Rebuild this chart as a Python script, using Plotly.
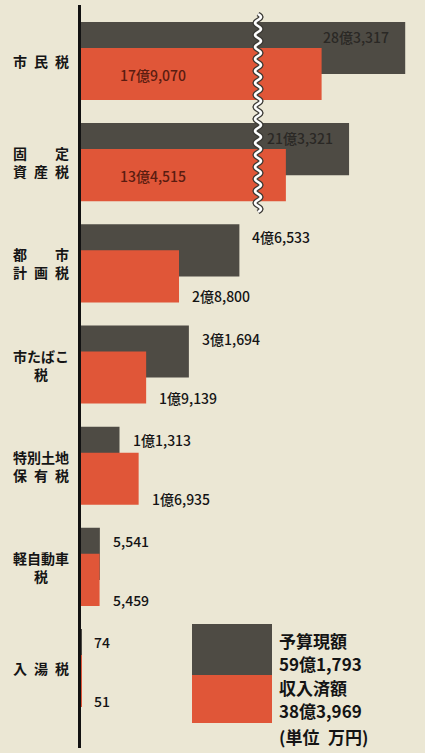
import math
import plotly.graph_objects as go

# ---------------- data (unit: 万円) ----------------
categories = ["市民税", "固定資産税", "都市計画税", "市たばこ税", "特別土地保有税", "軽自動車税", "入湯税"]
label_text = [
    "市\u2002民\u2002税",
    "固\u3000\u3000定<br>資\u2002産\u2002税",
    "都\u3000\u3000市<br>計\u2002画\u2002税",
    "市たばこ<br>税",
    "特別土地<br>保\u2002有\u2002税",
    "軽自動車<br>税",
    "入\u2002湯\u2002税",
]
budget = [283317, 213321, 46533, 31694, 11313, 5541, 74]     # 予算現額
revenue = [179070, 134515, 28800, 19139, 16935, 5459, 51]    # 収入済額
series_names = ["予算現額", "収入済額"]
unit_note = "(単位\u2002万円)"

# ---------------- style ----------------
W, H = 425, 753
ML, MR, MT, MB = 81, 0, 5, 5
PW, PH = W - ML - MR, H - MT - MB
BG = "#ebe7d4"
GRAY = "#4e4b44"
RED = "#e05638"
FONT = "Noto Sans CJK JP"

# broken x axis: first segment linear from 0, second segment after the break
break_px = 258
seg1_range = [0, 52000]
seg2_range = [99750, 308000]
d = (break_px - ML) / PW

BAR_W = 0.515
OFF_B, OFF_R = -0.386, -0.129


def fmt(v):
    oku, man = divmod(v, 10000)
    s = f"{man:,}"
    return f"{oku}億{s}" if oku else s


def px(xp):
    return (xp - ML) / PW


def py(yp):
    return (H - MB - yp) / PH


fig = go.Figure()
for xa in ["x", "x2"]:
    fig.add_trace(go.Bar(orientation="h", y=categories, x=budget, width=BAR_W, offset=OFF_B,
                         marker=dict(color=GRAY, line=dict(width=0)), name=series_names[0],
                         xaxis=xa, yaxis="y", showlegend=False, hoverinfo="skip"))
for xa in ["x", "x2"]:
    fig.add_trace(go.Bar(orientation="h", y=categories, x=revenue, width=BAR_W, offset=OFF_R,
                         marker=dict(color=RED, line=dict(width=0)), name=series_names[1],
                         xaxis=xa, yaxis="y", showlegend=False, hoverinfo="skip"))

ann = []
num_font = dict(family=FONT, size=14, color="#141414", weight=500)
for i, c in enumerate(categories):
    # category labels
    ann.append(dict(xref="paper", yref="y", x=px(41), y=c, text=f"<b>{label_text[i]}</b>",
                    showarrow=False, xanchor="center", yanchor="middle", align="center",
                    font=dict(family=FONT, size=14, color="#151515")))
    if budget[i] > seg1_range[1]:
        ann.append(dict(xref="x2", yref="y", x=budget[i], y=c, text=fmt(budget[i]),
                        showarrow=False, xanchor="right", xshift=-14, yshift=24,
                        font=dict(family=FONT, size=14, color="#2a2825", weight=500)))
    else:
        ann.append(dict(xref="x", yref="y", x=budget[i], y=c, text=fmt(budget[i]),
                        showarrow=False, xanchor="left", xshift=11, yshift=26, font=num_font))
    if revenue[i] > seg1_range[1]:
        ann.append(dict(xref="paper", yref="y", x=px(118), y=c, text=fmt(revenue[i]),
                        showarrow=False, xanchor="left", yshift=-14,
                        font=dict(family=FONT, size=14, color="#5a1c10", weight=500)))
    else:
        ann.append(dict(xref="x", yref="y", x=revenue[i], y=c, text=fmt(revenue[i]),
                        showarrow=False, xanchor="left", xshift=11, yshift=-33, font=num_font))

# legend block
leg_lines = [f"<b>{series_names[0]}</b>", f"<b>{fmt(sum(budget))}</b>",
             f"<b>{series_names[1]}</b>", f"<b>{fmt(sum(revenue))}</b>", f"<b>{unit_note}</b>"]
leg_y = [640, 663, 687, 710, 736]
for t, yy in zip(leg_lines, leg_y):
    ann.append(dict(xref="paper", yref="paper", x=px(277), y=py(yy), text=t, showarrow=False,
                    xanchor="left", yanchor="middle", font=dict(family=FONT, size=17, color="#141414")))

shapes = [
    dict(type="rect", xref="paper", yref="paper", x0=px(192), x1=px(272), y0=py(675), y1=py(624),
         fillcolor=GRAY, line=dict(width=0)),
    dict(type="rect", xref="paper", yref="paper", x0=px(192), x1=px(272), y0=py(723), y1=py(675),
         fillcolor=RED, line=dict(width=0)),
]

# wavy break line
pts = []
yy = 14.0
while yy <= 212:
    xx = break_px + 3.0 * math.sin(2 * math.pi * (yy - 14) / 12.0)
    pts.append((px(xx), py(yy)))
    yy += 1.0
path = "M " + " L ".join(f"{a:.5f},{b:.5f}" for a, b in pts)
shapes.append(dict(type="path", xref="paper", yref="paper", path=path, line=dict(color="#3a3833", width=5)))
shapes.append(dict(type="path", xref="paper", yref="paper", path=path, line=dict(color="#ffffff", width=2.5)))

fig.update_layout(
    width=W, height=H,
    margin=dict(l=ML, r=MR, t=MT, b=MB),
    paper_bgcolor=BG, plot_bgcolor=BG,
    barmode="overlay",
    xaxis=dict(domain=[0, d], range=seg1_range, visible=False, fixedrange=True),
    xaxis2=dict(domain=[d, 1], range=seg2_range, visible=False, anchor="y", fixedrange=True),
    yaxis=dict(type="category", categoryorder="array", categoryarray=categories,
               range=[6.79, -0.553], showticklabels=False, ticks="", showgrid=False,
               zeroline=False, showline=True, linecolor="#121212", linewidth=3, fixedrange=True),
    annotations=ann,
    shapes=shapes,
    font=dict(family=FONT),
)

fig.write_html("out.html", config={"displayModeBar": False},
               post_script="document.body.style.margin='0';document.body.style.overflow='hidden';")
